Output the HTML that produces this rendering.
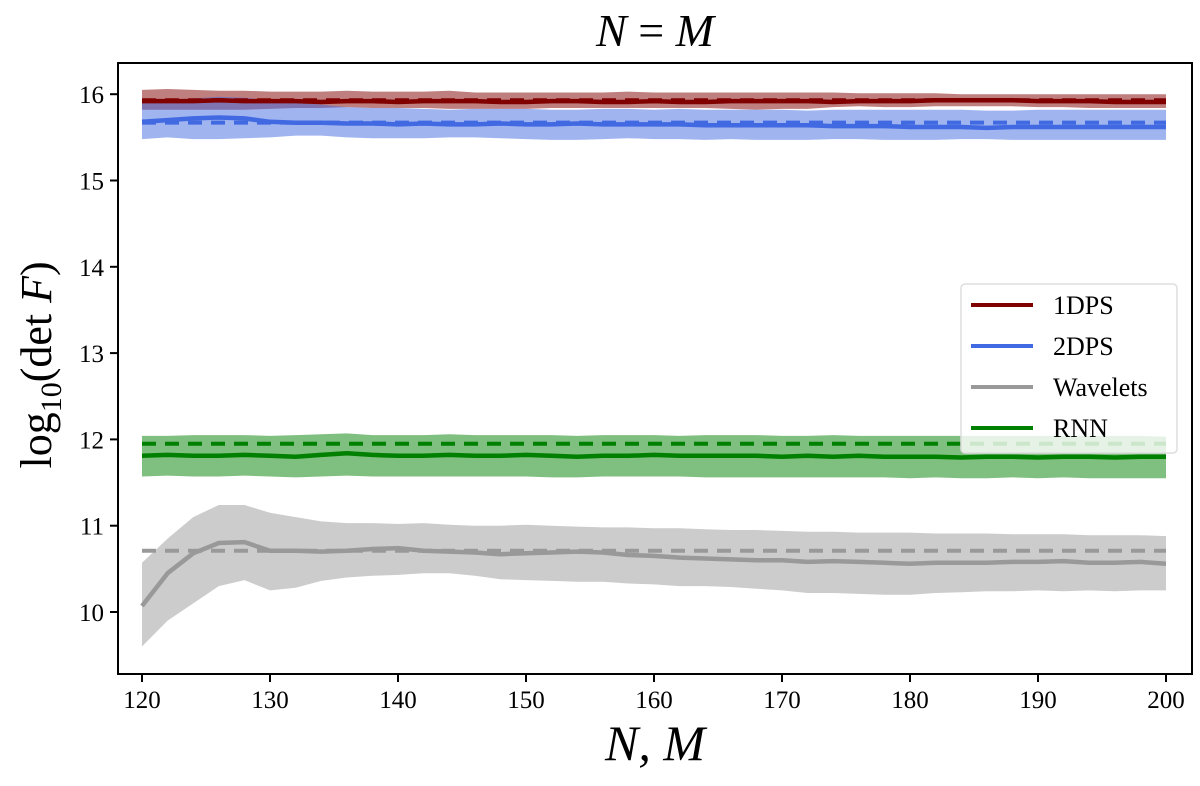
<!DOCTYPE html>
<html><head><meta charset="utf-8"><style>
body{margin:0;background:#fff}
svg text{font-family:"Liberation Serif",serif;fill:#000}
</style></head><body>
<svg id="chart" width="1200" height="781" viewBox="0 0 1200 781" xmlns="http://www.w3.org/2000/svg">
<g id="bands"></g><g id="lines"></g><g id="axes"></g>
</svg>
<script>
const xs=[120,122,124,126,128,130,132,134,136,138,140,142,144,146,148,150,152,154,156,158,160,162,164,166,168,170,172,174,176,178,180,182,184,186,188,190,192,194,196,198,200];
const xTicks=[120,130,140,150,160,170,180,190,200];
const yTicks=[10,11,12,13,14,15,16];
const seriesNames=["1DPS","2DPS","Wavelets","RNN"];
const ps1Mean=[15.92,15.92,15.92,15.93,15.92,15.92,15.92,15.91,15.92,15.92,15.91,15.92,15.92,15.92,15.91,15.91,15.92,15.92,15.91,15.91,15.92,15.91,15.91,15.92,15.92,15.92,15.92,15.91,15.92,15.92,15.92,15.93,15.93,15.93,15.93,15.92,15.92,15.92,15.91,15.91,15.91];
const ps1Upper=[16.05,16.06,16.05,16.04,16.04,16.03,16.03,16.03,16.04,16.03,16.03,16.03,16.04,16.02,16.02,16.02,16.02,16.02,16.02,16.03,16.02,16.02,16.02,16.02,16.02,16.02,16.02,16.02,16.01,16.01,16.01,16.01,16.0,16.0,16.0,16.0,16.0,16.0,16.0,16.0,16.0];
const ps1Lower=[15.82,15.82,15.82,15.82,15.82,15.83,15.84,15.84,15.85,15.84,15.84,15.84,15.83,15.83,15.83,15.83,15.84,15.84,15.84,15.84,15.84,15.84,15.84,15.83,15.82,15.83,15.83,15.85,15.86,15.85,15.85,15.86,15.86,15.86,15.86,15.85,15.85,15.84,15.84,15.84,15.84];
const ps2Mean=[15.68,15.7,15.72,15.73,15.72,15.68,15.67,15.67,15.66,15.66,15.65,15.66,15.65,15.65,15.66,15.65,15.65,15.66,15.65,15.65,15.65,15.65,15.64,15.64,15.64,15.64,15.64,15.63,15.63,15.63,15.62,15.62,15.62,15.61,15.62,15.62,15.62,15.62,15.62,15.62,15.62];
const ps2Upper=[15.9,15.93,15.95,15.97,15.96,15.93,15.9,15.88,15.85,15.84,15.84,15.83,15.82,15.83,15.83,15.83,15.82,15.82,15.83,15.83,15.82,15.83,15.82,15.82,15.82,15.82,15.81,15.82,15.82,15.82,15.82,15.82,15.82,15.81,15.81,15.82,15.82,15.82,15.82,15.82,15.82];
const ps2Lower=[15.48,15.5,15.48,15.48,15.49,15.5,15.52,15.52,15.5,15.49,15.49,15.49,15.5,15.5,15.49,15.48,15.47,15.47,15.48,15.49,15.48,15.48,15.47,15.48,15.47,15.47,15.47,15.48,15.48,15.47,15.47,15.47,15.48,15.48,15.47,15.47,15.47,15.47,15.47,15.47,15.47];
const wavMean=[10.07,10.45,10.68,10.8,10.81,10.71,10.71,10.7,10.71,10.73,10.74,10.71,10.7,10.69,10.67,10.68,10.69,10.7,10.69,10.66,10.65,10.63,10.62,10.61,10.6,10.6,10.58,10.59,10.58,10.57,10.56,10.57,10.57,10.57,10.58,10.58,10.59,10.57,10.57,10.58,10.56];
const wavUpper=[10.57,10.85,11.1,11.24,11.24,11.15,11.1,11.05,11.03,11.03,11.02,11.03,11.01,11.0,11.0,11.01,11.0,10.99,10.98,10.98,10.97,10.97,10.96,10.95,10.95,10.94,10.93,10.93,10.92,10.92,10.92,10.91,10.91,10.91,10.9,10.9,10.9,10.89,10.89,10.89,10.88];
const wavLower=[9.6,9.9,10.1,10.3,10.37,10.25,10.28,10.36,10.4,10.42,10.43,10.45,10.45,10.42,10.38,10.37,10.36,10.35,10.35,10.33,10.32,10.3,10.3,10.29,10.27,10.25,10.22,10.22,10.21,10.2,10.2,10.22,10.23,10.24,10.24,10.25,10.24,10.25,10.24,10.25,10.25];
const rnnMean=[11.81,11.82,11.81,11.81,11.82,11.81,11.8,11.82,11.84,11.82,11.81,11.81,11.82,11.81,11.81,11.82,11.81,11.8,11.81,11.81,11.82,11.81,11.81,11.81,11.81,11.8,11.81,11.8,11.81,11.8,11.8,11.8,11.79,11.8,11.8,11.79,11.8,11.8,11.79,11.8,11.8];
const rnnUpper=[12.04,12.04,12.05,12.05,12.05,12.04,12.05,12.06,12.07,12.05,12.05,12.05,12.06,12.05,12.05,12.05,12.05,12.04,12.05,12.05,12.05,12.04,12.05,12.05,12.05,12.04,12.04,12.05,12.04,12.04,12.04,12.04,12.04,12.04,12.04,12.04,12.04,12.04,12.04,12.04,12.03];
const rnnLower=[11.57,11.58,11.57,11.57,11.58,11.57,11.56,11.57,11.58,11.57,11.57,11.57,11.57,11.57,11.57,11.57,11.56,11.56,11.57,11.57,11.57,11.57,11.56,11.56,11.56,11.56,11.56,11.56,11.56,11.56,11.55,11.56,11.55,11.55,11.56,11.55,11.56,11.55,11.55,11.55,11.55];
const refValues=[15.93,15.67,10.71,11.95];

const X0=118,X1=1192,Y0=63,Y1=674;
const sx=v=>142+(v-120)*12.8;
const sy=v=>612-(v-10)*86.3;
const NS="http://www.w3.org/2000/svg";
function mk(parent,tag,attrs){const e=document.createElementNS(NS,tag);for(const k in attrs)e.setAttribute(k,attrs[k]);parent.appendChild(e);return e;}
const bands=document.getElementById('bands'),lines=document.getElementById('lines'),axes=document.getElementById('axes');
const colors=["#800000","#4169e1","#999999","#008000"];
const bandColors=["rgba(128,0,0,0.5)","rgba(65,105,225,0.5)","rgba(153,153,153,0.5)","rgba(0,128,0,0.5)"];
const means=[ps1Mean,ps2Mean,wavMean,rnnMean],ups=[ps1Upper,ps2Upper,wavUpper,rnnUpper],lows=[ps1Lower,ps2Lower,wavLower,rnnLower];
const keys=["1dps","2dps","wavelets","rnn"];
for(let s=0;s<4;s++){
  let d=xs.map((x,i)=>(i?'L':'M')+sx(x).toFixed(1)+','+sy(ups[s][i]).toFixed(1)).join('');
  for(let i=xs.length-1;i>=0;i--)d+='L'+sx(xs[i]).toFixed(1)+','+sy(lows[s][i]).toFixed(1);
  const b=mk(bands,'path',{d:d+'Z',fill:bandColors[s],stroke:'none'});
  
  
}
for(let s=0;s<4;s++){
  const dl=mk(lines,'line',{x1:sx(xs[0]),x2:sx(xs[xs.length-1]),y1:sy(refValues[s]),y2:sy(refValues[s]),stroke:colors[s],'stroke-width':4,'stroke-dasharray':'14,9'});
  
  
  const p=mk(lines,'polyline',{points:xs.map((x,i)=>sx(x).toFixed(1)+','+sy(means[s][i]).toFixed(1)).join(' '),fill:'none',stroke:colors[s],'stroke-width':4.5,'stroke-linejoin':'round'});
  
  
}
const frame=mk(axes,'rect',{x:X0,y:Y0,width:X1-X0,height:Y1-Y0,fill:'none',stroke:'#000','stroke-width':2});


xTicks.forEach(t=>{
  mk(axes,'line',{x1:sx(t),x2:sx(t),y1:Y1,y2:Y1+8,stroke:'#000','stroke-width':2});
  const tx=mk(axes,'text',{x:sx(t),y:Y1+34,'text-anchor':'middle','font-size':25});
  tx.textContent=t;
  
  
});
yTicks.forEach(t=>{
  mk(axes,'line',{x1:X0-8,x2:X0,y1:sy(t),y2:sy(t),stroke:'#000','stroke-width':2});
  const tx=mk(axes,'text',{x:X0-14,y:sy(t)+9,'text-anchor':'end','font-size':25});
  tx.textContent=t;
  
  
});
const lg=mk(axes,'g',{});


mk(lg,'rect',{x:961,y:284,width:216,height:169,rx:4,fill:'rgba(255,255,255,0.8)',stroke:'#ddd','stroke-width':1.5});
seriesNames.forEach((n,i)=>{
  const y=305+i*41;
  const e=mk(lg,'g',{});
  
  
  mk(e,'line',{x1:971,x2:1033,y1:y,y2:y,stroke:colors[i],'stroke-width':4});
  const t=mk(e,'text',{x:1053,y:y+9,'font-size':26});
  t.textContent=n;
});
</script>
<div style="position:absolute;left:0;top:4px;width:1310px;text-align:center;font:italic 46px 'Liberation Serif',serif">N <span style="font-style:normal">=</span> M</div>
<div style="position:absolute;left:0;top:714px;width:1310px;text-align:center;font:italic 50px 'Liberation Serif',serif">N, M</div>
<div style="position:absolute;left:-160px;top:336px;width:400px;text-align:center;transform:rotate(-90deg);font:44px 'Liberation Serif',serif">log<sub style="font-size:30px">10</sub>(det <i>F</i>)</div>
</body></html>
